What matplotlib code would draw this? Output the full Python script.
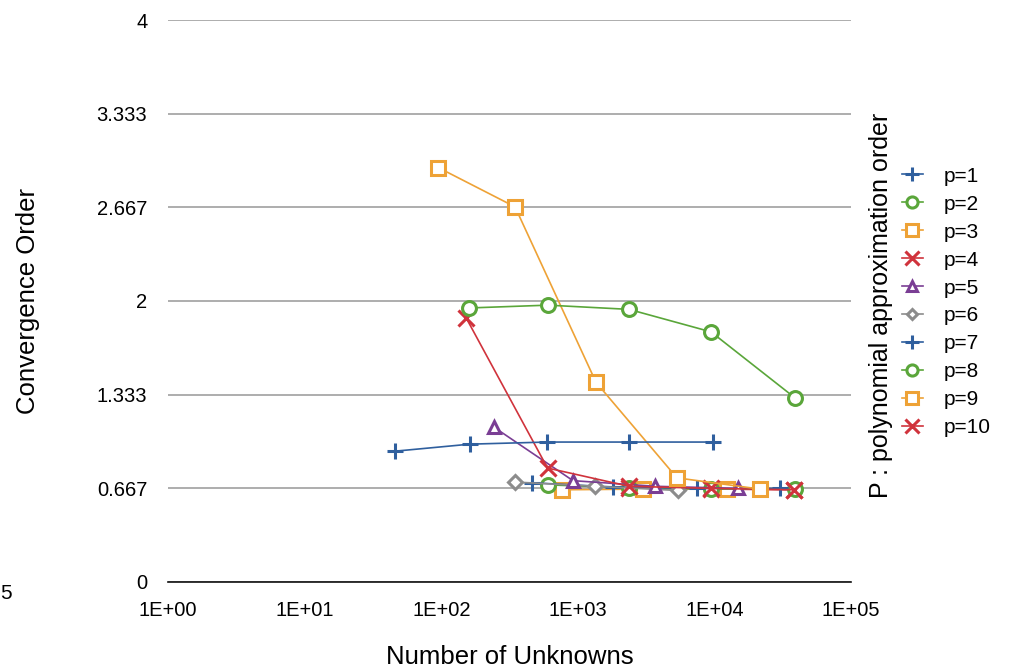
import matplotlib.pyplot as plt
from matplotlib.ticker import FixedLocator, NullLocator

plt.rcParams['font.family'] = ['Liberation Sans', 'DejaVu Sans']

# data
p1_x = [46, 162, 596, 2370, 9770]
p1_y = [0.93, 0.98, 0.995, 0.995, 0.995]
p2_x = [160, 605, 2370, 9440, 38900]
p2_y = [1.95, 1.97, 1.94, 1.78, 1.31]
p3_x = [95, 347, 1360, 5320, 21600]
p3_y = [2.95, 2.67, 1.42, 0.74, 0.66]
p4_x = [152, 600, 2370, 9500, 38000]
p4_y = [1.88, 0.81, 0.68, 0.665, 0.655]
p5_x = [244, 922, 3670, 14900]
p5_y = [1.10, 0.72, 0.68, 0.665]
p6_x = [347, 1336, 5410]
p6_y = [0.71, 0.68, 0.65]
p7_x = [462, 1810, 7460, 30200]
p7_y = [0.705, 0.675, 0.665, 0.665]
p8_x = [605, 2370, 9440, 38900]
p8_y = [0.69, 0.67, 0.66, 0.66]
p9_x = [766, 3000, 12400]
p9_y = [0.655, 0.66, 0.66]
p10_x = [2370, 9500, 38000]
p10_y = [0.67, 0.66, 0.655]

labels = ['p=%d' % i for i in range(1, 11)]
xs = [p1_x, p2_x, p3_x, p4_x, p5_x, p6_x, p7_x, p8_x, p9_x, p10_x]
ys = [p1_y, p2_y, p3_y, p4_y, p5_y, p6_y, p7_y, p8_y, p9_y, p10_y]

yticks = [0, 0.667, 1.333, 2, 2.667, 3.333, 4]
ytick_labels = ['0', '0.667', '1.333', '2', '2.667', '3.333', '4']
xticks = [1, 10, 100, 1000, 10000, 100000]
xtick_labels = ['1E+00', '1E+01', '1E+02', '1E+03', '1E+04', '1E+05']

blue = '#2f5f9e'
green = '#5aa63a'
orange = '#eea236'
red = '#d0333c'
purple = '#7a3e94'
grey = '#8c8c8c'
colors = [blue, green, orange, red, purple, grey, blue, green, orange, red]
markers = ['+', 'o', 's', 'x', '^', 'D', '+', 'o', 's', 'x']
msizes = [12, 10, 10, 12, 9, 7, 12, 10, 10, 12]

fig = plt.figure(figsize=(10.13, 6.71), dpi=100)
ax = fig.add_axes([0.166, 0.133, 0.674, 0.837])

handles = []
# draw later series first so p=1..6 sit on top like the reference
for i in range(9, -1, -1):
    filled = markers[i] in ('+', 'x')
    h, = ax.plot(xs[i], ys[i], color=colors[i], lw=1.2, marker=markers[i],
                 ms=msizes[i], mew=2.2,
                 mfc=colors[i] if filled else 'white', mec=colors[i],
                 label=labels[i])
    handles.append(h)
handles = handles[::-1]

ax.set_xscale('log')
ax.set_xlim(1, 100000)
ax.set_ylim(0, 4)
ax.xaxis.set_major_locator(FixedLocator(xticks))
ax.xaxis.set_minor_locator(NullLocator())
ax.set_xticklabels(xtick_labels)
ax.set_yticks(yticks)
ax.set_yticklabels(ytick_labels)
ax.tick_params(length=0, labelsize=14.5)
ax.tick_params(axis='y', pad=15)
ax.tick_params(axis='x', pad=14)
ax.yaxis.grid(True, color='#a0a0a0', lw=1.2)
ax.set_axisbelow(True)
for s in ['top', 'right', 'left']:
    ax.spines[s].set_visible(False)
ax.spines['bottom'].set_color('#111111')
ax.spines['bottom'].set_linewidth(1.2)

# axis titles
fig.text(0.5 * (0.166 + 0.840), 0.021, 'Number of Unknowns', fontsize=18.5,
         ha='center', va='center')
fig.text(0.028, 0.133 + 0.837 / 2, 'Convergence Order', fontsize=18.5,
         rotation=90, ha='center', va='center')

fig.legend(handles=handles, labels=labels, loc='upper left',
           bbox_to_anchor=(0.882, 0.764), frameon=False, fontsize=15,
           handlelength=1.0, handletextpad=1.0, labelspacing=0.43,
           markerscale=0.8, borderaxespad=0)
fig.text(0.870, 0.545, 'P : polynomial approximation order', rotation=90,
         fontsize=18, ha='center', va='center')
fig.text(0.0, 0.116, '5', fontsize=15, ha='left', va='center')

fig.savefig('out.png', dpi=100)
